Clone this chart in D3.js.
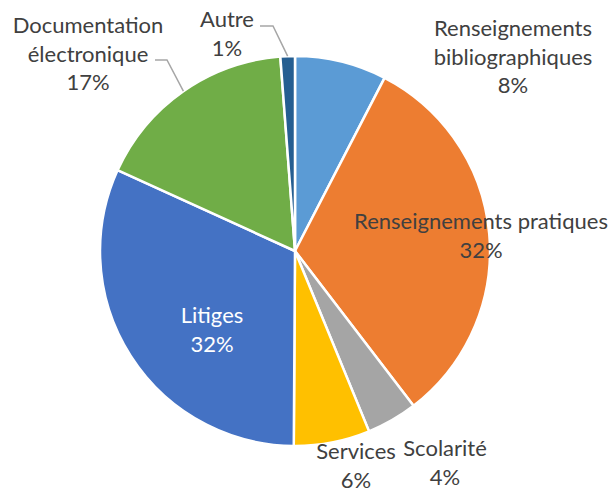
<!DOCTYPE html>
<html lang="fr">
<head>
<meta charset="UTF-8">
<script src="https://d3js.org/d3.v7.min.js"></script>
<style>
  body { margin: 0; background: #fff; }
  svg text { font-family: Lato, "Open Sans", sans-serif; }
</style>
</head>
<body>
<svg width="615" height="493"></svg>
<script>
  // data, clockwise from 12 o'clock
  const categories = [
    "Renseignements bibliographiques",
    "Renseignements pratiques",
    "Scolarité",
    "Services",
    "Litiges",
    "Documentation électronique",
    "Autre"
  ];
  const values = [7.6, 32.0, 4.2, 6.3, 31.7, 17.0, 1.2];
  const colors = ["#5B9BD5", "#ED7D31", "#A5A5A5", "#FFC000", "#4472C4", "#70AD47", "#255E91"];

  // how each label is broken into lines
  const labelLines = [
    ["Renseignements", "bibliographiques"],
    ["Renseignements pratiques"],
    ["Scolarité"],
    ["Services"],
    ["Litiges"],
    ["Documentation", "électronique"],
    ["Autre"]
  ];

  // layout (label anchor = first baseline, relative to pie centre)
  const cx = 295, cy = 251, radius = 195;
  const labelPos = [[218, -215], [186, -22], [150, 205], [61, 208], [-83, 72], [-207, -218], [-68, -224]];
  const labelFill = ["#404040", "#404040", "#404040", "#404040", "#fff", "#404040", "#404040"];
  // leader lines: start and elbow relative to label anchor, ends on the slice edge
  const leaders = { 5: [[67, 27], [79, 27]], 6: [[33, -1], [46, -1]] };
  const fontSize = 22, lineH = 28.5;

  const svg = d3.select("svg");
  const g = svg.append("g").attr("transform", `translate(${cx},${cy})`);

  const total = d3.sum(values);
  const pie = d3.pie().sort(null).value(d => d)(values);
  const arc = d3.arc().innerRadius(0).outerRadius(radius);

  g.selectAll("path.slice")
    .data(pie)
    .enter().append("path")
    .attr("class", "slice")
    .attr("d", arc)
    .attr("fill", (d, i) => colors[i])
    .attr("stroke", "#fff")
    .attr("stroke-width", 2.5)
    .attr("stroke-linejoin", "round");

  // leader lines
  Object.keys(leaders).forEach(k => {
    const i = +k;
    const d = pie[i];
    const mid = (d.startAngle + d.endAngle) / 2;
    const end = [radius * Math.sin(mid), -radius * Math.cos(mid)];
    const [p0, p1] = leaders[i];
    const a = labelPos[i];
    g.append("path")
      .attr("d", d3.line()([[a[0] + p0[0], a[1] + p0[1]], [a[0] + p1[0], a[1] + p1[1]], end]))
      .attr("fill", "none")
      .attr("stroke", "#A6A6A6")
      .attr("stroke-width", 1.5);
  });

  // labels
  pie.forEach((d, i) => {
    const lines = labelLines[i].concat([Math.round(values[i] / total * 100) + "%"]);
    const t = g.append("text")
      .attr("x", labelPos[i][0])
      .attr("y", labelPos[i][1])
      .attr("text-anchor", "middle")
      .attr("fill", labelFill[i])
      .style("font-size", fontSize + "px");
    lines.forEach((l, j) => {
      t.append("tspan")
        .attr("x", labelPos[i][0])
        .attr("dy", j === 0 ? 0 : lineH)
        .text(l);
    });
  });
</script>
</body>
</html>
